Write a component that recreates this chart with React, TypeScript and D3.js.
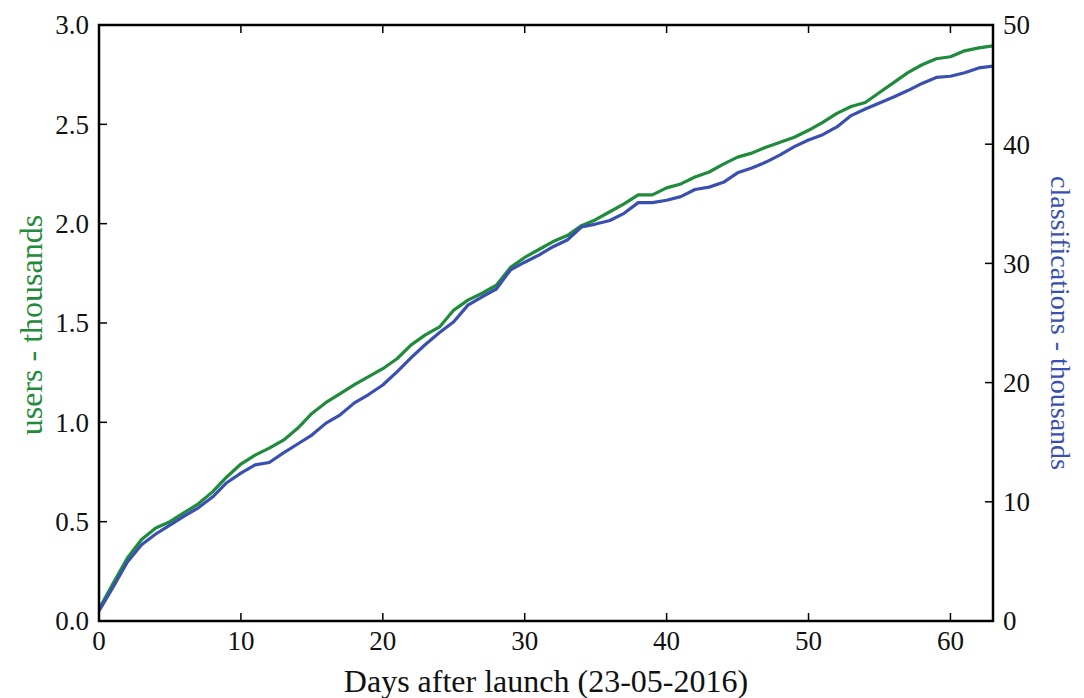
import React from "react";
import * as d3 from "d3";

const days: number[] = Array.from({ length: 64 }, (_, i) => i);

const users: number[] = [
  0.06, 0.19, 0.317, 0.41, 0.468, 0.5, 0.545, 0.59, 0.65, 0.725,
  0.79, 0.835, 0.87, 0.91, 0.97, 1.045, 1.1, 1.145, 1.19, 1.23,
  1.27, 1.32, 1.39, 1.44, 1.48, 1.565, 1.615, 1.65, 1.69, 1.78,
  1.83, 1.87, 1.91, 1.94, 1.99, 2.02, 2.06, 2.1, 2.145, 2.145,
  2.18, 2.2, 2.235, 2.26, 2.3, 2.335, 2.355, 2.385, 2.41, 2.435,
  2.47, 2.51, 2.555, 2.59, 2.61, 2.66, 2.71, 2.76, 2.8, 2.83,
  2.84, 2.87, 2.885, 2.895,
];

const classifications: number[] = [
  0.84, 2.85, 4.95, 6.4, 7.3, 8.05, 8.8, 9.5, 10.4, 11.6,
  12.4, 13.1, 13.3, 14.1, 14.85, 15.6, 16.6, 17.3, 18.3, 19.0,
  19.8, 20.9, 22.1, 23.2, 24.2, 25.1, 26.5, 27.2, 27.85, 29.45,
  30.1, 30.7, 31.4, 31.96, 33.05, 33.3, 33.6, 34.2, 35.1, 35.1,
  35.3, 35.6, 36.2, 36.4, 36.8, 37.6, 38.0, 38.5, 39.1, 39.8,
  40.35, 40.8, 41.45, 42.4, 42.95, 43.45, 43.96, 44.5, 45.1, 45.6,
  45.7, 46.0, 46.4, 46.55,
];

const xTicks: number[] = [0, 10, 20, 30, 40, 50, 60];
const leftTicks: number[] = [0, 0.5, 1.0, 1.5, 2.0, 2.5, 3.0];
const rightTicks: number[] = [0, 10, 20, 30, 40, 50];

const xLabel = "Days after launch (23-05-2016)";
const leftLabel = "users - thousands";
const rightLabel = "classifications - thousands";

const GREEN = "#1f8b3b";
const BLUE = "#3a50b0";

export default function App() {
  const W = 1084;
  const H = 698;
  const m = { left: 99, right: 993, top: 25, bottom: 621 };
  const x = d3.scaleLinear().domain([0, 63]).range([m.left, m.right]);
  const yL = d3.scaleLinear().domain([0, 3]).range([m.bottom, m.top]);
  const yR = d3.scaleLinear().domain([0, 50]).range([m.bottom, m.top]);

  const lineU = d3
    .line<number>()
    .x((_, i) => x(days[i]))
    .y((d) => yL(d));
  const lineC = d3
    .line<number>()
    .x((_, i) => x(days[i]))
    .y((d) => yR(d));

  const font = "'Liberation Serif', 'Times New Roman', serif";
  const tickLen = 8;
  const tickFs = 27;

  return (
    <svg
      width={W}
      height={H}
      style={{ position: "absolute", left: 0, top: 0, background: "#fff" }}
      fontFamily={font}
    >
      <defs>
        <clipPath id="plot">
          <rect x={m.left} y={m.top} width={m.right - m.left} height={m.bottom - m.top} />
        </clipPath>
      </defs>
      <g clipPath="url(#plot)">
        <path d={lineU(users) || ""} fill="none" stroke={GREEN} strokeWidth={3.2} strokeLinejoin="round" />
        <path d={lineC(classifications) || ""} fill="none" stroke={BLUE} strokeWidth={3.2} strokeLinejoin="round" />
      </g>
      {xTicks.map((t) => (
        <g key={"x" + t}>
          <line x1={x(t)} x2={x(t)} y1={m.bottom} y2={m.bottom - tickLen} stroke="#000" strokeWidth={1.5} />
          <line x1={x(t)} x2={x(t)} y1={m.top} y2={m.top + tickLen} stroke="#000" strokeWidth={1.5} />
          <text x={x(t)} y={m.bottom + 29} textAnchor="middle" fontSize={tickFs} fill="#111">
            {t}
          </text>
        </g>
      ))}
      {leftTicks.map((t) => (
        <g key={"l" + t}>
          <line x1={m.left} x2={m.left + tickLen} y1={yL(t)} y2={yL(t)} stroke="#000" strokeWidth={1.5} />
          <text x={m.left - 10} y={yL(t)} dy="0.35em" textAnchor="end" fontSize={tickFs} fill="#111">
            {t.toFixed(1)}
          </text>
        </g>
      ))}
      {rightTicks.map((t) => (
        <g key={"r" + t}>
          <line x1={m.right} x2={m.right - tickLen} y1={yR(t)} y2={yR(t)} stroke="#000" strokeWidth={1.5} />
          <text x={m.right + 10} y={yR(t)} dy="0.35em" textAnchor="start" fontSize={tickFs} fill="#111">
            {t}
          </text>
        </g>
      ))}
      <rect
        x={m.left}
        y={m.top}
        width={m.right - m.left}
        height={m.bottom - m.top}
        fill="none"
        stroke="#000"
        strokeWidth={2.5}
      />
      <text x={546} y={692} textAnchor="middle" fontSize={32} fill="#111">
        {xLabel}
      </text>
      <text
        transform={`translate(42, 325) rotate(-90)`}
        textAnchor="middle"
        fontSize={32}
        fill={GREEN}
      >
        {leftLabel}
      </text>
      <text
        transform={`translate(1051, 323) rotate(90)`}
        textAnchor="middle"
        fontSize={28}
        fill={BLUE}
      >
        {rightLabel}
      </text>
    </svg>
  );
}
